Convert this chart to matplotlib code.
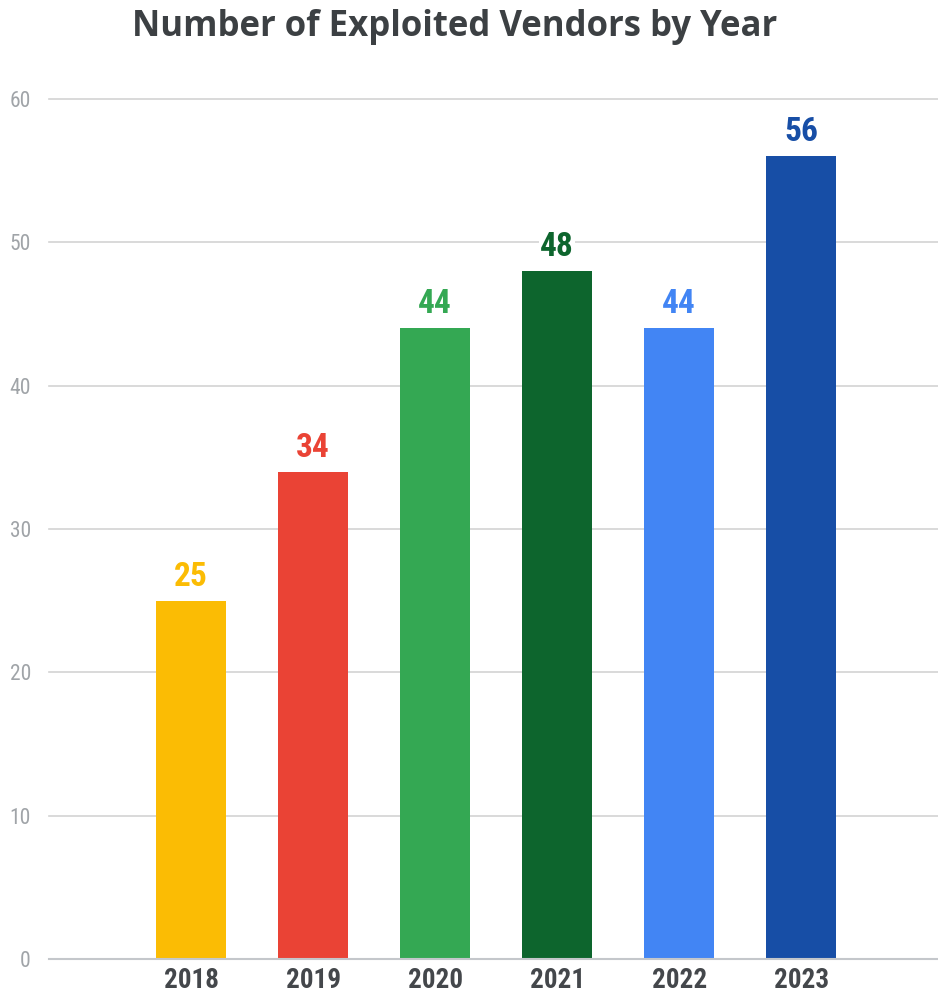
import matplotlib
matplotlib.use("Agg")
import matplotlib.pyplot as plt
import logging

logging.getLogger("matplotlib.font_manager").setLevel(logging.ERROR)

years = ["2018", "2019", "2020", "2021", "2022", "2023"]
vendors = [25, 34, 44, 48, 44, 56]
colors = ["#FBBC04", "#EA4335", "#34A853", "#0D652D", "#4285F4", "#174EA6"]
yticks = [0, 10, 20, 30, 40, 50, 60]

narrow = ["Roboto Condensed", "Liberation Sans Narrow", "Roboto"]

fig = plt.figure(figsize=(9.38, 9.94), dpi=100)
ax = fig.add_axes([0.0522, 0.0352, 0.9478, 0.8652])

x = list(range(len(years)))
bars = ax.bar(x, vendors, width=0.574, color=colors, zorder=3)

for xi, v, c in zip(x, vendors, colors):
    ax.text(xi, v + 0.55, str(v), ha="center", va="bottom", color=c,
            fontsize=24, fontweight="bold", family=narrow, zorder=5,
            bbox=dict(facecolor="white", edgecolor="none", pad=1))

ax.set_xlim(-1.164, 6.12)
ax.set_ylim(0, 60)
ax.set_yticks(yticks)
ax.set_xticks(x)
ax.set_xticklabels(years)
ax.grid(axis="y", color="#d3d3d3", linewidth=1.2, zorder=0)
for gl in ax.get_ygridlines():
    gl.set_clip_on(False)

for side in ["top", "right", "left"]:
    ax.spines[side].set_visible(False)
ax.spines["bottom"].set_color("#c4c7cb")
ax.spines["bottom"].set_linewidth(1.5)
ax.spines["bottom"].set_zorder(4)

ax.tick_params(axis="both", length=0)
ax.tick_params(axis="y", pad=13, labelcolor="#a0a4a8", labelsize=15.5)
ax.tick_params(axis="x", pad=6, labelcolor="#44474b", labelsize=19.5)
for lab in ax.get_yticklabels():
    lab.set_family(narrow)
for lab in ax.get_xticklabels():
    lab.set_family(narrow)
    lab.set_fontweight("bold")

fig.text(0.485, 0.973, "Number of Exploited Vendors by Year", ha="center", va="center",
         fontsize=25, fontweight="bold", color="#3c4043", family=["Open Sans", "Roboto", "DejaVu Sans"])

fig.savefig("out.png", dpi=100, facecolor="white")
